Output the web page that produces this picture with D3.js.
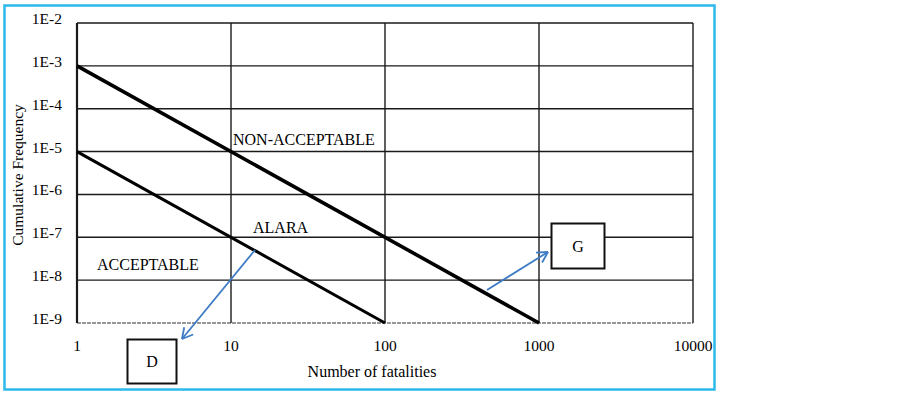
<!DOCTYPE html>
<html>
<head>
<meta charset="utf-8">
<script src="https://cdn.jsdelivr.net/npm/d3@7"></script>
<style>
  html, body { margin: 0; padding: 0; background: #fff; }
  svg { display: block; }
  text { font-family: "Liberation Serif", "Times New Roman", serif; fill: #000; }
</style>
</head>
<body>
<svg id="chart" width="902" height="393"></svg>
<script>
// ---- data ----
const xTickValues = [1, 10, 100, 1000, 10000];
const xTickLabels = ["1", "10", "100", "1000", "10000"];
const yTickValues = [1e-2, 1e-3, 1e-4, 1e-5, 1e-6, 1e-7, 1e-8, 1e-9];
const yTickLabels = ["1E-2", "1E-3", "1E-4", "1E-5", "1E-6", "1E-7", "1E-8", "1E-9"];
const upperLimitFatalities = [1, 1000];
const upperLimitFrequency = [1e-3, 1e-9];
const lowerLimitFatalities = [1, 100];
const lowerLimitFrequency = [1e-5, 1e-9];
const regionNames = ["NON-ACCEPTABLE", "ALARA", "ACCEPTABLE"];
const boxNames = ["D", "G"];
const xTitle = "Number of fatalities";
const yTitle = "Cumulative Frequency";

// ---- layout ----
const svg = d3.select("#chart");
const x = d3.scaleLog().domain([1, 10000]).range([77, 693]);
const y = d3.scaleLog().domain([1e-9, 1e-2]).range([323, 23]);

// outer light-blue frame
svg.append("rect").attr("x", 4.5).attr("y", 5.5).attr("width", 710).attr("height", 384)
  .attr("fill", "none").attr("stroke", "#2bb8ea").attr("stroke-width", 2.5);

// grid
const grid = svg.append("g");
grid.selectAll("line.h").data(yTickValues).join("line")
  .attr("x1", x(1)).attr("x2", x(10000))
  .attr("y1", d => y(d)).attr("y2", d => y(d))
  .attr("stroke", d => d === 1e-9 ? "#777" : "#1a1a1a")
  .attr("stroke-width", d => d === 1e-9 ? 1.5 : 1.4)
  .attr("stroke-dasharray", d => d === 1e-9 ? "4,1" : null);
grid.selectAll("line.v").data(xTickValues).join("line")
  .attr("y1", y(1e-2)).attr("y2", y(1e-9))
  .attr("x1", d => x(d)).attr("x2", d => x(d))
  .attr("stroke", "#1a1a1a")
  .attr("stroke-width", d => d === 1 ? 2.2 : 1.4);

// y tick labels
svg.append("g").selectAll("text").data(yTickValues).join("text")
  .attr("x", 62).attr("y", d => y(d) + 1)
  .attr("text-anchor", "end").attr("font-size", 15.5)
  .text((d, i) => yTickLabels[i]);

// x tick labels
svg.append("g").selectAll("text").data(xTickValues).join("text")
  .attr("x", d => x(d)).attr("y", 351)
  .attr("text-anchor", "middle").attr("font-size", 15.5)
  .text((d, i) => xTickLabels[i]);

// axis titles
svg.append("text").attr("x", 372).attr("y", 377).attr("text-anchor", "middle")
  .attr("font-size", 16).text(xTitle);
svg.append("text").attr("transform", "translate(23,175) rotate(-90)")
  .attr("text-anchor", "middle").attr("font-size", 15.5).text(yTitle);

// limit lines
const line = d3.line().x(d => x(d[0])).y(d => y(d[1]));
svg.append("path")
  .attr("d", line(upperLimitFatalities.map((f, i) => [f, upperLimitFrequency[i]])))
  .attr("stroke", "#000").attr("stroke-width", 3.6).attr("fill", "none");
svg.append("path")
  .attr("d", line(lowerLimitFatalities.map((f, i) => [f, lowerLimitFrequency[i]])))
  .attr("stroke", "#000").attr("stroke-width", 3).attr("fill", "none");

// region labels
svg.append("text").attr("x", 233).attr("y", 145).attr("font-size", 16).text(regionNames[0]);
svg.append("text").attr("x", 253).attr("y", 233).attr("font-size", 16).text(regionNames[1]);
svg.append("text").attr("x", 97).attr("y", 270).attr("font-size", 16).text(regionNames[2]);

// boxes
const boxes = [
  { name: boxNames[0], x0: 127.5, y0: 339.5, w: 49, h: 44 },
  { name: boxNames[1], x0: 551.5, y0: 223.5, w: 53, h: 45 }
];
boxes.forEach(b => {
  svg.append("rect").attr("x", b.x0).attr("y", b.y0).attr("width", b.w).attr("height", b.h)
    .attr("fill", "#fff").attr("stroke", "#111").attr("stroke-width", 2);
  svg.append("text").attr("x", b.x0 + b.w / 2).attr("y", b.y0 + b.h / 2 + 5.5)
    .attr("text-anchor", "middle").attr("font-size", 16).text(b.name);
});

// arrows
function arrow(x1, y1, x2, y2) {
  const g = svg.append("g").attr("stroke", "#3f7cc6").attr("stroke-width", 1.8).attr("fill", "none");
  g.append("line").attr("x1", x1).attr("y1", y1).attr("x2", x2).attr("y2", y2);
  const a = Math.atan2(y2 - y1, x2 - x1);
  const L = 12, spread = 0.5;
  [a + Math.PI - spread, a + Math.PI + spread].forEach(t => {
    g.append("line").attr("x1", x2).attr("y1", y2)
      .attr("x2", x2 + L * Math.cos(t)).attr("y2", y2 + L * Math.sin(t));
  });
}
arrow(255, 250, 182, 339);
arrow(487, 290, 548, 252);
</script>
</body>
</html>
